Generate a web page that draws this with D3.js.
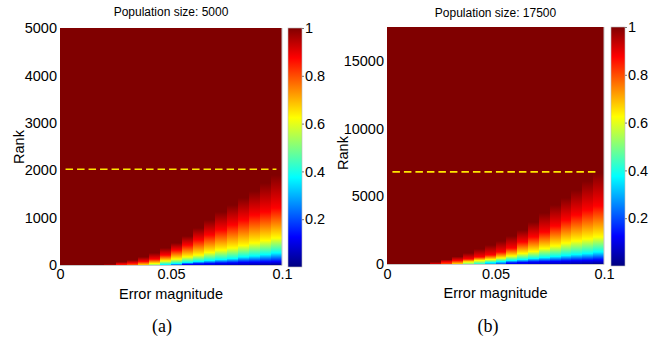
<!DOCTYPE html>
<html>
<head>
<meta charset="utf-8">
<script src="https://cdn.jsdelivr.net/npm/d3@7"></script>
<style>
body { margin: 0; background: #fff; }
text { font-family: "Liberation Sans", Arial, Helvetica, sans-serif; fill: #000; }
.caption { font-family: "Liberation Serif", "Times New Roman", serif; }
</style>
</head>
<body>
<svg id="chart" width="659" height="347"></svg>
<script>
// error magnitude bins (lower edge of each column)
const errorBins = [0, 0.005, 0.01, 0.015, 0.02, 0.025, 0.03, 0.035, 0.04, 0.045,
                   0.05, 0.055, 0.06, 0.065, 0.07, 0.075, 0.08, 0.085, 0.09, 0.095];
const binWidth = 0.005;

// colour levels that each rank array below refers to
const colorLevels = [0.125, 0.375, 0.625, 0.875, 1];
const colorbarTicks = [0.2, 0.4, 0.6, 0.8, 1];
const xTicks = [0, 0.05, 0.1];

// panel (a): population 5000
const titleA = "Population size: 5000";
const rankTicksA = [0, 1000, 2000, 3000, 4000, 5000];
const thresholdA = 2020;
const baseA   = [1, 1, 1, 1, 0.95, 0.85, 0.78, 0.66, 0.5, 0.34, 0.2, 0.11, 0.1, 0.09, 0.07, 0.06, 0.05, 0.04, 0.03, 0.02];
const blueA   = [null, null, null, null, null, null, null, null, null, null, null, 15, 25, 30, 40, 45, 55, 60, 65, 70];
const cyanA   = [null, null, null, null, null, null, null, null, null, 10, 30, 55, 75, 95, 115, 135, 170, 190, 220, 255];
const yellowA = [null, null, null, null, null, null, null, null, 30, 85, 125, 170, 210, 265, 315, 360, 410, 465, 515, 570];
const redA    = [null, null, null, null, null, 20, 40, 75, 125, 210, 315, 420, 530, 635, 740, 845, 950, 1055, 1120, 1200];
const topA    = [null, null, null, null, 30, 65, 105, 170, 255, 360, 465, 610, 780, 950, 1120, 1265, 1415, 1560, 1730, 1900];

// panel (b): population 17500
const titleB = "Population size: 17500";
const rankTicksB = [0, 5000, 10000, 15000];
const thresholdB = 6800;
const baseB   = [1, 1, 1, 1, 0.9, 0.8, 0.66, 0.5, 0.4, 0.3, 0.2, 0.12, 0.1, 0.08, 0.07, 0.06, 0.05, 0.04, 0.03, 0.02];
const blueB   = [null, null, null, null, null, null, null, null, null, null, null, 75, 110, 150, 170, 190, 220, 245, 265, 300];
const cyanB   = [null, null, null, null, null, null, null, null, null, 110, 185, 260, 330, 410, 480, 550, 630, 700, 780, 890];
const yellowB = [null, null, null, null, null, null, null, 150, 260, 330, 440, 590, 780, 920, 1150, 1330, 1550, 1700, 1850, 2000];
const redB    = [null, null, null, null, 40, 150, 260, 370, 520, 670, 890, 1180, 1630, 2000, 2360, 2810, 3250, 3620, 3990, 4290];
const topB    = [null, null, null, null, 150, 330, 550, 810, 1110, 1400, 1700, 2070, 2510, 3100, 3770, 4360, 4880, 5470, 6130, 6720];

// MATLAB jet colormap as a piecewise linear scale
const jet = d3.scaleLinear()
    .domain([0, 0.125, 0.375, 0.625, 0.875, 1])
    .range(["#000080", "#0000ff", "#00ffff", "#ffff00", "#ff0000", "#800000"]);

const svg = d3.select("#chart");
const defs = svg.append("defs");

const panels = [
    { id: "a", title: titleA, maxRank: 5000, rankTicks: rankTicksA, threshold: thresholdA,
      base: baseA, levels: [blueA, cyanA, yellowA, redA, topA],
      left: 60, right: 282, top: 28, bottom: 265, cbX: 288, cbTop: 28, cbBottom: 267,
      titleY: 16, tickY: 279, labelY: 299, rankX: 24, rankY: 147, caption: "(a)", captionX: 162 },
    { id: "b", title: titleB, maxRank: 17500, rankTicks: rankTicksB, threshold: thresholdB,
      base: baseB, levels: [blueB, cyanB, yellowB, redB, topB],
      left: 387, right: 604, top: 27, bottom: 264, cbX: 611, cbTop: 27, cbBottom: 266,
      titleY: 17, tickY: 279, labelY: 298, rankX: 348, rankY: 153, caption: "(b)", captionX: 488 }
];

panels.forEach(function (p) {
    const x = d3.scaleLinear().domain([0, 0.1]).range([p.left, p.right]);
    const y = d3.scaleLinear().domain([0, p.maxRank]).range([p.bottom, p.top]);
    const g = svg.append("g");

    // heatmap columns, each one a vertical gradient through the read colour levels
    errorBins.forEach(function (e, k) {
        const topRank = p.levels[4][k];
        let fill = jet(1);
        if (topRank !== null) {
            const stops = [{ r: 0, v: p.base[k] }];
            colorLevels.forEach(function (lv, i) {
                const r = p.levels[i][k];
                if (r !== null && lv > p.base[k]) stops.push({ r: r, v: lv });
            });
            const gid = "col-" + p.id + "-" + k;
            defs.append("linearGradient")
                .attr("id", gid)
                .attr("gradientUnits", "userSpaceOnUse")
                .attr("x1", 0).attr("x2", 0)
                .attr("y1", y(0)).attr("y2", y(topRank))
                .selectAll("stop")
                .data(stops)
                .enter().append("stop")
                .attr("offset", d => d.r / topRank)
                .attr("stop-color", d => jet(d.v));
            fill = "url(#" + gid + ")";
        }
        g.append("rect")
            .attr("x", x(e))
            .attr("y", p.top)
            .attr("width", x(e + binWidth) - x(e) + 0.3)
            .attr("height", p.bottom - p.top)
            .attr("fill", fill)
            .attr("shape-rendering", "crispEdges");
    });

    // light axis box lines
    g.append("path")
        .attr("d", "M" + p.left + "," + (p.bottom + 0.5) + "H" + p.right + "V" + p.top)
        .attr("fill", "none")
        .attr("stroke", "#c8c8c8")
        .attr("stroke-width", 1);

    // threshold rank (dashed)
    g.append("line")
        .attr("x1", x(0.0025)).attr("x2", x(0.0975))
        .attr("y1", y(p.threshold)).attr("y2", y(p.threshold))
        .attr("stroke", "#ffe600")
        .attr("stroke-width", 1.6)
        .attr("stroke-dasharray", "7.5,4");

    // Y axis
    g.append("g")
        .attr("transform", "translate(" + p.left + ",0)")
        .call(d3.axisLeft(y).tickValues(p.rankTicks).tickFormat(d3.format("d"))
            .tickSize(0).tickPadding(3))
        .call(a => a.select(".domain").remove())
        .selectAll("text")
        .attr("font-size", 14.5)
        .attr("font-family", null);

    // X axis labels
    g.append("g")
        .attr("transform", "translate(0," + p.bottom + ")")
        .call(d3.axisBottom(x).tickValues(xTicks).tickFormat(d => d === 0 ? "0" : String(d))
            .tickSize(0).tickPadding(2))
        .call(a => a.select(".domain").remove())
        .selectAll("text")
        .attr("font-size", 14.5)
        .attr("font-family", null)
        .attr("dy", null)
        .attr("y", p.tickY - p.bottom);

    // title and axis names
    g.append("text")
        .attr("x", (p.left + p.right) / 2)
        .attr("y", p.titleY)
        .attr("text-anchor", "middle")
        .attr("font-size", 12)
        .text(p.title);

    g.append("text")
        .attr("x", (p.left + p.right) / 2)
        .attr("y", p.labelY)
        .attr("text-anchor", "middle")
        .attr("font-size", 14.5)
        .text("Error magnitude");

    g.append("text")
        .attr("transform", "translate(" + p.rankX + "," + p.rankY + ") rotate(-90)")
        .attr("text-anchor", "middle")
        .attr("font-size", 14.5)
        .text("Rank");

    // colorbar
    const c = d3.scaleLinear().domain([0, 1]).range([p.cbBottom, p.cbTop]);
    const cbid = "cb-" + p.id;
    defs.append("linearGradient")
        .attr("id", cbid)
        .attr("gradientUnits", "userSpaceOnUse")
        .attr("x1", 0).attr("x2", 0)
        .attr("y1", c(0)).attr("y2", c(1))
        .selectAll("stop")
        .data(jet.domain())
        .enter().append("stop")
        .attr("offset", d => d)
        .attr("stop-color", d => jet(d));

    g.append("rect")
        .attr("x", p.cbX)
        .attr("y", p.cbTop)
        .attr("width", 14)
        .attr("height", p.cbBottom - p.cbTop)
        .attr("fill", "url(#" + cbid + ")")
        .attr("stroke", "#bdbdbd")
        .attr("stroke-width", 0.6);

    g.append("g")
        .attr("transform", "translate(" + (p.cbX + 14) + ",0)")
        .call(d3.axisRight(c).tickValues(colorbarTicks).tickFormat(d => d === 1 ? "1" : String(d))
            .tickSize(2).tickPadding(1))
        .call(a => a.select(".domain").remove())
        .call(a => a.selectAll("line").attr("stroke", "#777"))
        .selectAll("text")
        .attr("font-size", 14.5)
        .attr("font-family", null);

    // sub-figure caption
    svg.append("text")
        .attr("class", "caption")
        .attr("x", p.captionX)
        .attr("y", 332)
        .attr("text-anchor", "middle")
        .attr("font-size", 18)
        .text(p.caption);
});
</script>
</body>
</html>
